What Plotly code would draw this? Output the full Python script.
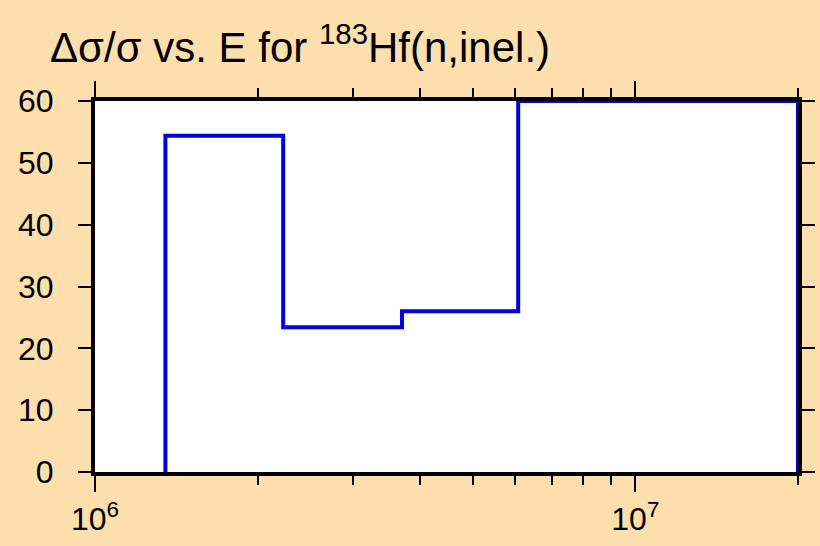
import numpy as np
import plotly.graph_objects as go

# step histogram: bin lower edges (eV), upper edge of last bin, relative uncertainty (%)
edge_lo = [1.35e6, 2.23e6, 3.70e6, 6.07e6]
edge_hi = 2.0e7
rel_unc = [54.4, 23.4, 26.0, 60.0]

x_major = [1e6, 1e7]
x_major_text = ['10<sup>6</sup>', '10<sup>7</sup>']
x_minor = [2e6, 3e6, 4e6, 5e6, 6e6, 7e6, 8e6, 9e6, 2e7]

# close the step down to zero on both ends
x = [edge_lo[0]] + edge_lo + [edge_hi, edge_hi]
y = [0] + rel_unc + [rel_unc[-1], 0]

fig = go.Figure()
fig.add_trace(go.Scatter(x=x, y=y, mode='lines', line_shape='hv',
                         line=dict(color='#0000e0', width=4), showlegend=False))

bg = '#FDDEAD'
font = 'Liberation Sans, Arial'
fig.update_layout(
    width=820, height=546,
    paper_bgcolor=bg, plot_bgcolor='white',
    margin=dict(l=95, r=22, t=101, b=74),
    title=dict(text='Δσ/σ vs. E for <sup>183</sup>Hf(n,inel.)', x=50/820, xanchor='left',
               y=1 - 47/546, yanchor='middle', font=dict(family=font, size=42, color='black')),
    font=dict(family=font, size=32, color='black'),
)
fig.update_xaxes(type='log', range=[6, np.log10(2e7)], showgrid=False, zeroline=False,
                 automargin=False,
                 showline=True, linecolor='black', linewidth=4, mirror='ticks',
                 ticks='outside', ticklen=16, tickwidth=2, tickcolor='black',
                 tickvals=x_major, ticktext=x_major_text, ticklabelstandoff=0,
                 minor=dict(ticks='outside', ticklen=9, tickwidth=2, tickcolor='black',
                            tickvals=x_minor, showgrid=False))
fig.update_yaxes(range=[0, 60], dtick=10, showgrid=False, zeroline=False,
                 automargin=False,
                 showline=True, linecolor='black', linewidth=4, mirror='ticks',
                 ticks='outside', ticklen=13, tickwidth=2, tickcolor='black',
                 ticklabelstandoff=18)

fig.write_html("out.html", config={'displayModeBar': False},
               post_script="document.body.style.margin='0';")
